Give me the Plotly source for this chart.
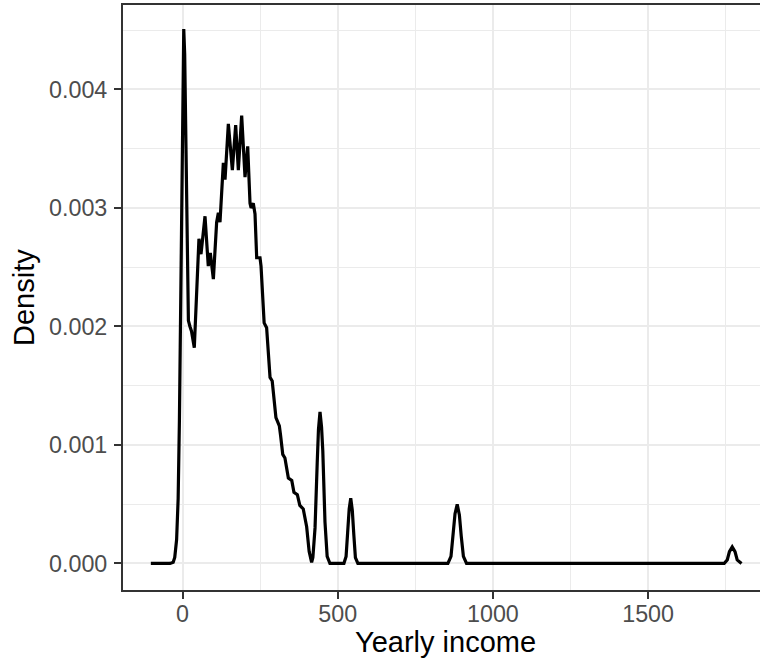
import plotly.graph_objects as go

# Density curve (x = yearly income, y = density)
income = [-102, -40, -30, -25, -19, -14, -10, -5, 0, 4, 7, 10, 15.6, 19, 24, 29, 38,
          45.6, 53, 59.6, 72.5, 83, 89.6, 99.4, 110, 115.5, 120.8, 131.6, 137, 147.7,
          160.6, 171.3, 179.9, 190.6, 201.4, 210, 217.5, 221, 228, 233.6, 239, 249.7,
          253, 263, 271, 282, 289, 301, 312, 316, 323, 330, 341, 352, 359, 370, 378,
          389, 400, 408, 416, 420, 427, 434, 438, 443, 448, 452, 459, 466, 475,
          520, 527, 532, 537, 542, 547, 552, 557, 565,
          855, 865, 872, 878, 885, 892, 898, 905, 915,
          1745, 1755, 1762, 1771, 1780, 1787, 1801]
density = [0, 0, 0.00001, 0.00005, 0.0002, 0.00055, 0.0012, 0.0025, 0.0039, 0.00451,
           0.0043, 0.0037, 0.0025, 0.00205, 0.00200, 0.00196, 0.00182,
           0.00237, 0.00274, 0.00261, 0.00293, 0.00251, 0.00262, 0.00240, 0.00288,
           0.00296, 0.00288, 0.00338, 0.00324, 0.00371,
           0.00332, 0.00370, 0.00332, 0.00378, 0.00326, 0.00352, 0.00304, 0.00300,
           0.00304, 0.00295, 0.00258, 0.00258,
           0.00251, 0.00203, 0.00199, 0.00157, 0.00154, 0.00123, 0.00116, 0.00108,
           0.00092, 0.00089, 0.00072, 0.00070, 0.00060, 0.00058, 0.00049,
           0.00046, 0.00031, 0.00010, 0.00001, 0.00005, 0.00030, 0.00085, 0.00113,
           0.00128, 0.00115, 0.00095, 0.00035, 0.00006, 0,
           0, 0.00006, 0.00026, 0.00046, 0.00055, 0.00045, 0.00024, 0.00005, 0,
           0, 0.00006, 0.00024, 0.00042, 0.000498, 0.00041, 0.00023, 0.00006, 0,
           0, 0.00003, 0.00010, 0.00014, 0.00010, 0.00003, 0]

x_ticks = [0, 500, 1000, 1500]
x_tick_labels = ["0", "500", "1000", "1500"]
y_ticks = [0.000, 0.001, 0.002, 0.003, 0.004]
y_tick_labels = ["0.000", "0.001", "0.002", "0.003", "0.004"]

FONT = "Liberation Sans, Arial, Helvetica, sans-serif"
GRID = "#EBEBEB"
DARK = "#333333"

fig = go.Figure()
fig.add_trace(go.Scatter(x=income, y=density, mode="lines",
                         line=dict(color="black", width=3.2),
                         hoverinfo="skip", showlegend=False))

axis_common = dict(
    showgrid=True, gridcolor=GRID, gridwidth=2,
    zeroline=False, showline=True, linecolor=DARK, linewidth=2,
    ticks="outside", ticklen=7, tickwidth=2, tickcolor=DARK,
    tickfont=dict(family=FONT, size=23.3, color="#4D4D4D"),
)

fig.update_layout(
    width=760, height=661,
    margin=dict(l=123, r=0, t=5, b=71, pad=0),
    paper_bgcolor="white", plot_bgcolor="white",
    xaxis=dict(range=[-191.7, 1860.5], tickvals=x_ticks, ticktext=x_tick_labels,
               mirror=True, ticklabelstandoff=-5,
               minor=dict(tickvals=[250, 750, 1250, 1750], showgrid=True,
                          gridcolor=GRID, gridwidth=1, ticks=""),
               **axis_common),
    yaxis=dict(range=[-0.000224, 0.004713], tickvals=y_ticks, ticktext=y_tick_labels,
               mirror=False, ticklabelstandoff=2,
               minor=dict(tickvals=[0.0005, 0.0015, 0.0025, 0.0035, 0.0045], showgrid=True,
                          gridcolor=GRID, gridwidth=1, ticks=""),
               **axis_common),
    annotations=[
        dict(text="Yearly income", xref="paper", yref="paper",
             x=(445 - 123) / 637, y=(590 - 642) / 585,
             xanchor="center", yanchor="middle", showarrow=False,
             font=dict(family=FONT, size=29, color="black")),
        dict(text="Density", xref="paper", yref="paper",
             x=(23.5 - 123) / 637, y=0.5, textangle=-90,
             xanchor="center", yanchor="middle", showarrow=False,
             font=dict(family=FONT, size=29, color="black")),
    ],
)

fig.write_html("out.html")
